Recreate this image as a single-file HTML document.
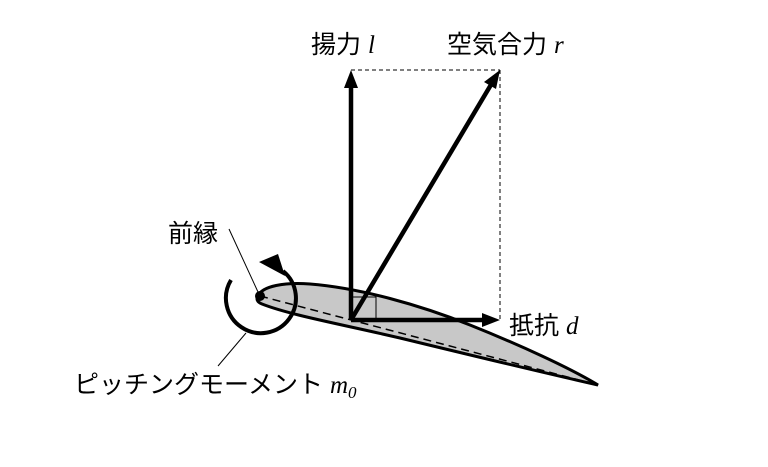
<!DOCTYPE html>
<html><head><meta charset="utf-8"><style>
html,body{margin:0;padding:0;background:#fff;}
svg{display:block;}
text{font-family:"Liberation Sans","Noto Sans CJK JP",sans-serif;font-size:25px;fill:#000;}
.i{font-family:"Liberation Serif",serif;font-style:italic;}
</style></head><body>
<svg width="768" height="467" viewBox="0 0 768 467">
<!-- airfoil -->
<path d="M258,296 C262,286 285,282 310,284 C360,288 420,305 470,325 C520,345 570,368 598,385 C540,372 470,355 400,338 C340,324 290,315 262,304 C257,302 256,299 258,296 Z" fill="#c8c8c8" stroke="#000" stroke-width="3"/>
<line x1="260" y1="296" x2="598" y2="385" stroke="#000" stroke-width="1.5" stroke-dasharray="8,5"/>
<!-- dashed parallelogram -->
<line x1="351" y1="70" x2="500" y2="70" stroke="#000" stroke-width="1" stroke-dasharray="4,3"/>
<line x1="500" y1="70" x2="500" y2="320" stroke="#000" stroke-width="1" stroke-dasharray="4,3"/>
<rect x="351" y="297" width="25" height="23" fill="none" stroke="#000" stroke-width="1"/>
<!-- arrows -->
<line x1="351" y1="320" x2="351" y2="86" stroke="#000" stroke-width="4.5"/>
<path d="M351,70 L358,88 L344,88 z" fill="#000"/>
<line x1="351" y1="320" x2="492" y2="83" stroke="#000" stroke-width="4.5"/>
<path d="M500,70 L496,89 L484,82 z" fill="#000"/>
<line x1="351" y1="320" x2="484" y2="320" stroke="#000" stroke-width="4.5"/>
<path d="M500,320 L482,327 L482,313 z" fill="#000"/>
<!-- leading edge dot -->
<circle cx="260" cy="296" r="5" fill="#000"/>
<!-- moment arc -->
<path d="M231,280 A35,35 0 1 0 283,271" fill="none" stroke="#000" stroke-width="4"/>
<path d="M259,262 L278,254 L285,276 z" fill="#000"/>
<!-- leader lines -->
<line x1="229" y1="229" x2="258" y2="292" stroke="#000" stroke-width="1"/>
<line x1="218" y1="366" x2="246" y2="333" stroke="#000" stroke-width="1"/>
<!-- labels -->
<text x="311" y="53">揚力 <tspan class="i">l</tspan></text>
<text x="447" y="53">空気合力 <tspan class="i">r</tspan></text>
<text x="509" y="334">抵抗 <tspan class="i">d</tspan></text>
<text x="168" y="242">前縁</text>
<text x="74" y="393">ピッチングモーメント <tspan class="i">m</tspan><tspan class="i" font-size="17" dy="5">0</tspan></text>
</svg>
</body></html>
